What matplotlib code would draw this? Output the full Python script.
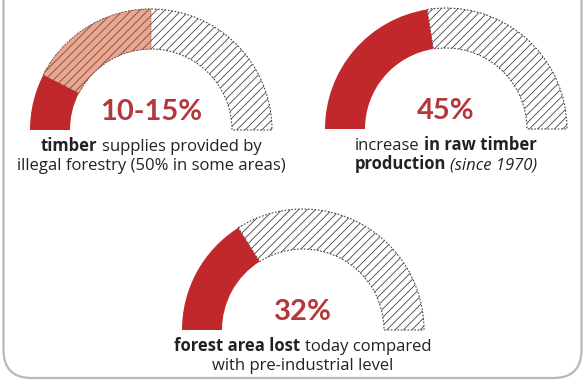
import matplotlib.pyplot as plt
from matplotlib.patches import Wedge, FancyBboxPatch

plt.rcParams['font.family'] = ['Lato', 'DejaVu Sans']
plt.rcParams['hatch.linewidth'] = 0.6

# gauge values (percent of half circle)
values = [15, 45, 32]
secondary = [50, None, None]      # light range for the first gauge
big_labels = ['10-15%', '45%', '32%']

# captions: lines of (text, weight, style) runs
captions = [
    [[('timber', 'bold', 'normal'), ('supplies provided by', 'normal', 'normal')],
     [('illegal forestry (50% in some areas)', 'normal', 'normal')]],
    [[('increase', 'normal', 'normal'), ('in raw timber', 'bold', 'normal')],
     [('production', 'bold', 'normal'), ('(since 1970)', 'normal', 'italic')]],
    [[('forest area lost', 'bold', 'normal'), ('today compared', 'normal', 'normal')],
     [('with pre-industrial level', 'normal', 'normal')]],
]

# layout in pixels (y down)
centers = [(151, 130), (446, 129), (303, 330)]
R, W = 121, 40

dark_red = '#c0282b'
salmon = '#e9a690'
pct_color = '#b3373b'
text_color = '#222222'
cap_font = ['Open Sans', 'DejaVu Sans']

fig = plt.figure(figsize=(5.83, 3.81), dpi=100)
ax = fig.add_axes([0, 0, 1, 1])
ax.set_xlim(0, 583)
ax.set_ylim(381, 0)
ax.axis('off')

# frame
frame = FancyBboxPatch((3.5, -60), 578, 438, boxstyle='round,pad=0,rounding_size=28',
                       facecolor='white', edgecolor='#b8b8b8', lw=1.6, zorder=0)
ax.add_patch(frame)

renderer = fig.canvas.get_renderer()


def rich_line(x, y, parts, size):
    texts = []
    for s, weight, style in parts:
        t = ax.text(0, y, s, fontsize=size, fontweight=weight, fontstyle=style,
                    family=cap_font, ha='left', va='baseline', color=text_color)
        texts.append(t)
    probe = ax.text(0, 0, 'x x', fontsize=size, family=cap_font)
    probe2 = ax.text(0, 0, 'xx', fontsize=size, family=cap_font)
    space = probe.get_window_extent(renderer).width - probe2.get_window_extent(renderer).width
    probe.remove()
    probe2.remove()
    widths = [t.get_window_extent(renderer).width for t in texts]
    total = sum(widths) + space * (len(texts) - 1)
    start = x - total / 2
    for t, w in zip(texts, widths):
        t.set_x(start)
        start += w + space


for i, (cx, cy) in enumerate(centers):
    a0 = 180
    a1 = 180 + values[i] * 1.8
    # remaining hatched part
    ax.add_patch(Wedge((cx, cy), R, a1, 360, width=W, facecolor='white', edgecolor='#444444',
                       hatch='////', lw=0.8, linestyle=(0, (1.5, 1.5))))
    if secondary[i] is not None:
        a2 = 180 + secondary[i] * 1.8
        ax.add_patch(Wedge((cx, cy), R, a1, a2, width=W, facecolor=salmon, edgecolor='#7a4a3a',
                           hatch='////', lw=0.6, linestyle=(0, (1.5, 1.5))))
    ax.add_patch(Wedge((cx, cy), R, a0, a1, width=W, facecolor=dark_red, edgecolor='none'))

    ax.text(cx, cy - 18, big_labels[i], ha='center', va='center', fontsize=21,
            fontweight='bold', color=pct_color)
    for j, line in enumerate(captions[i]):
        rich_line(cx, cy + 21 + j * 19, line, 12)

fig.savefig('out.png', dpi=100)
